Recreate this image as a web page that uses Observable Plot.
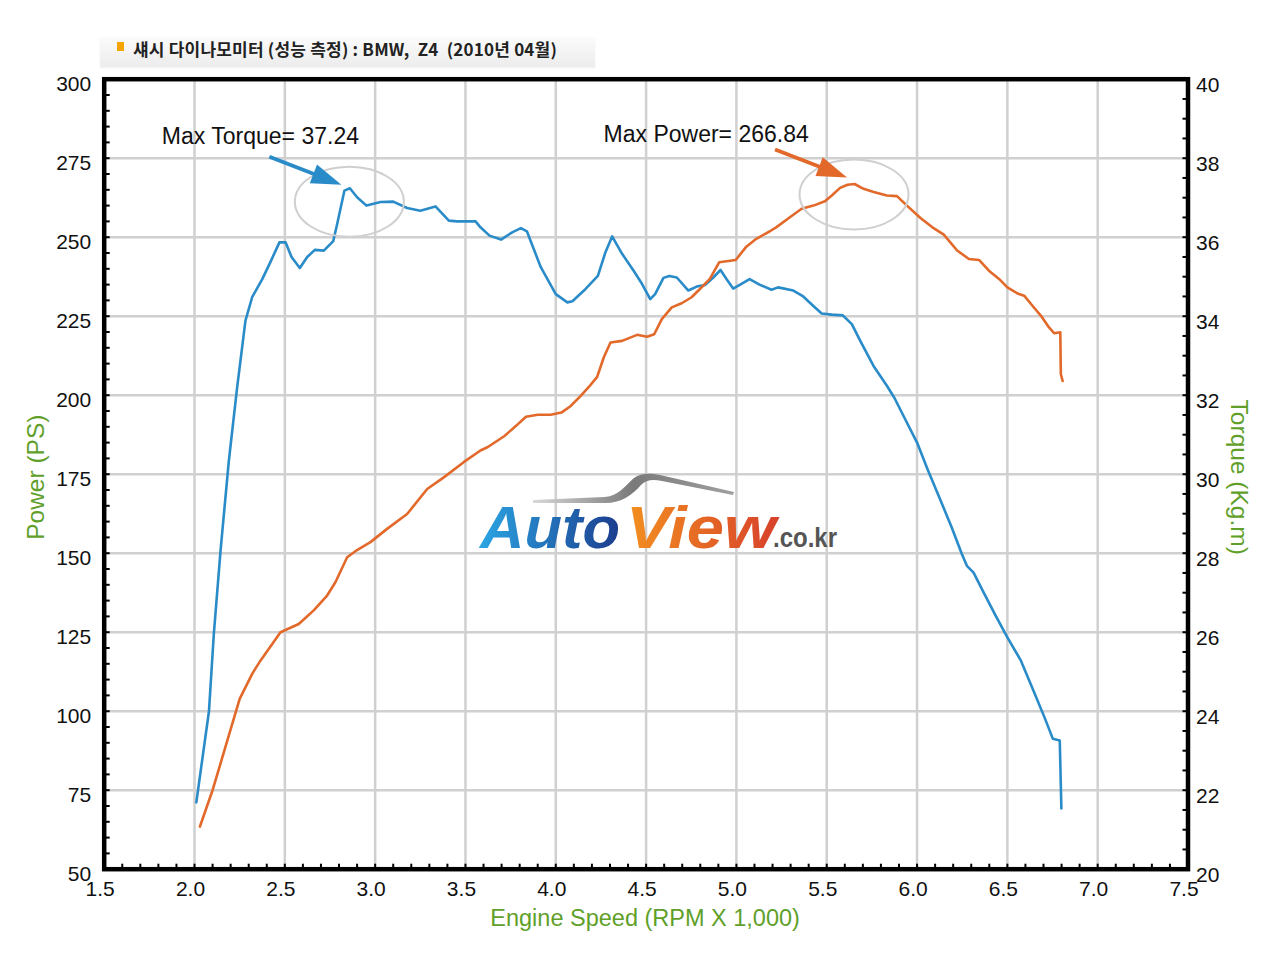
<!DOCTYPE html>
<html><head><meta charset="utf-8">
<script src="https://cdn.jsdelivr.net/npm/d3@7"></script>
<script src="https://cdn.jsdelivr.net/npm/@observablehq/plot@0.6"></script>
<style>
body{margin:0;background:#fff;width:1280px;height:955px;overflow:hidden;font-family:"Liberation Sans",Arial,sans-serif;}
#title{position:relative;height:68px;}
#title .bar{position:absolute;left:100px;top:37px;width:495px;height:30px;background:linear-gradient(to bottom,#fbfbfb,#ececec);box-shadow:0 1px 2px rgba(0,0,0,0.06);}
#title .bullet{position:absolute;left:117px;top:42px;width:7px;height:9px;background:#f5a400;}
#title .txt{position:absolute;left:133px;top:38px;font-family:"Noto Sans CJK KR",sans-serif;font-size:17px;font-weight:700;color:#222;line-height:22px;white-space:pre;letter-spacing:0.2px;}
#chart svg{display:block;}
</style></head>
<body>
<div id="title"><div class="bar"></div><div class="bullet"></div><div class="txt">섀시 다이나모미터 (성능 측정) : BMW,  Z4  (2010년 04월)</div></div>
<div id="chart"></div>
<script>
// ---- data ----
const rpmTorque = [2.01,2.08,2.107,2.144,2.19,2.236,2.282,2.319,2.375,2.42,2.47,2.504,2.537,2.583,2.624,2.666,2.716,2.768,2.79,2.83,2.86,2.90,2.952,3.03,3.10,3.177,3.25,3.334,3.408,3.454,3.556,3.583,3.633,3.697,3.761,3.807,3.84,3.917,4.0,4.064,4.092,4.165,4.233,4.275,4.312,4.367,4.431,4.477,4.523,4.55,4.596,4.629,4.67,4.734,4.78,4.826,4.872,4.912,4.945,4.982,5.028,5.073,5.128,5.194,5.231,5.315,5.37,5.426,5.472,5.528,5.589,5.639,5.685,5.759,5.833,5.875,5.94,6.0,6.062,6.127,6.192,6.248,6.276,6.313,6.369,6.435,6.5,6.575,6.64,6.705,6.752,6.79,6.799];
const torque = [21.69,24.0,25.96,28.06,30.34,32.2,33.89,34.48,34.94,35.37,35.87,35.87,35.5,35.22,35.5,35.68,35.66,35.9,36.34,37.18,37.24,37.01,36.8,36.89,36.9,36.74,36.67,36.78,36.42,36.4,36.4,36.25,36.04,35.94,36.13,36.23,36.15,35.24,34.56,34.35,34.38,34.69,35.02,35.62,36.02,35.58,35.15,34.82,34.43,34.56,34.97,35.02,34.98,34.65,34.75,34.79,34.98,35.17,34.94,34.7,34.82,34.94,34.8,34.67,34.73,34.65,34.5,34.26,34.07,34.04,34.02,33.8,33.38,32.74,32.24,31.93,31.34,30.8,30.08,29.37,28.65,27.98,27.68,27.51,27.0,26.42,25.87,25.28,24.57,23.85,23.3,23.26,21.54];
const rpmPower = [2.03,2.10,2.165,2.25,2.32,2.365,2.476,2.577,2.66,2.734,2.78,2.845,2.90,2.974,3.066,3.177,3.288,3.38,3.49,3.583,3.624,3.716,3.78,3.835,3.9,3.972,4.031,4.083,4.138,4.183,4.229,4.266,4.303,4.367,4.45,4.505,4.545,4.587,4.642,4.697,4.752,4.798,4.853,4.905,4.945,4.996,5.055,5.11,5.183,5.222,5.296,5.361,5.426,5.49,5.528,5.574,5.615,5.654,5.704,5.76,5.833,5.889,5.944,6.019,6.083,6.148,6.222,6.287,6.343,6.398,6.454,6.5,6.556,6.593,6.639,6.685,6.726,6.759,6.793,6.796,6.806];
const power = [63.5,75,87.5,103.9,111.9,116,125,127.6,131.9,136.6,140.8,148.7,151,153.5,157.7,162.4,170.3,174,178.8,182.5,183.6,187.1,190.3,193.2,193.8,193.8,194.5,196.6,199.8,202.6,205.8,212,216.7,217.2,219.1,218.5,219.3,224.1,227.8,229.1,231,233.6,236.8,242.1,242.4,242.8,247,249.5,251.8,253.2,256.3,259,260,261.4,263.2,265.6,266.6,266.84,265.3,264.3,263.2,263,260,256.1,253.2,250.8,245.8,243.1,242.8,239.4,236.8,234.1,232.2,231.5,228.3,225.2,221.8,219.6,219.9,206.7,204.5];
const xTicks = [1.5,2.0,2.5,3.0,3.5,4.0,4.5,5.0,5.5,6.0,6.5,7.0,7.5];
const powerTicks = [50,75,100,125,150,175,200,225,250,275,300];
const torqueTicks = [20,22,24,26,28,30,32,34,36,38,40];
const maxTorqueText = "Max Torque= 37.24";
const maxPowerText = "Max Power= 266.84";
const xLabel = "Engine Speed (RPM X 1,000)";
const yLabelLeft = "Power (PS)";
const yLabelRight = "Torque (Kg.m)";

// ---- helpers ----
const toPS = t => 50 + (t - 20) * 12.5;   // torque axis mapped onto power axis
const blue = "#2a8bc9", orange = "#e2692a", green = "#5f9f2a", grid = "#d0d0d0";
const torqueData = rpmTorque.map((r, i) => ({rpm: r, v: toPS(torque[i])}));
const powerData = rpmPower.map((r, i) => ({rpm: r, v: power[i]}));
const iT = d3.maxIndex(torque), iP = d3.maxIndex(power);
const peakT = torqueData[iT], peakP = powerData[iP];

const minorX = d3.range(Math.round(xTicks[0]*10), Math.round(xTicks[xTicks.length-1]*10)+1).map(d => d/10);
const minorPS = d3.range(powerTicks[0], powerTicks[powerTicks.length-1]+1, 5);
const minorT = d3.range(torqueTicks[0]*2, torqueTicks[torqueTicks.length-1]*2+1).map(d => toPS(d/2));

const plot = Plot.plot({
  width: 1280, height: 887,
  marginLeft: 103.7, marginRight: 92.5, marginTop: 10.7, marginBottom: 86.3,
  x: {domain: [xTicks[0], xTicks[xTicks.length-1]]},
  y: {domain: [powerTicks[0], powerTicks[powerTicks.length-1]]},
  style: {fontFamily: "'Liberation Sans', Arial, sans-serif", color: "#111", overflow: "visible", background: "white"},
  marks: [
    Plot.gridX({ticks: xTicks.slice(1, -1), stroke: grid, strokeOpacity: 1, strokeWidth: 2.5}),
    Plot.gridY({ticks: powerTicks.slice(1, -1), stroke: grid, strokeOpacity: 1, strokeWidth: 2.5}),
    Plot.axisX({ticks: minorX, tickSize: -5, fill: "none", stroke: "#000", strokeWidth: 2}),
    Plot.axisY({anchor: "left", ticks: minorPS, tickSize: -6, fill: "none", stroke: "#000", strokeWidth: 2}),
    Plot.axisY({anchor: "right", ticks: minorT, tickSize: -6, fill: "none", stroke: "#000", strokeWidth: 2}),
    Plot.axisX({ticks: xTicks, tickFormat: d3.format(".1f"), tickSize: 0, tickPadding: 12, dx: -4, fontSize: 21, label: null, fill: "#111"}),
    Plot.axisY({anchor: "left", ticks: powerTicks, tickSize: 0, tickPadding: 13, dy: 5, fontSize: 21, label: null, fill: "#111"}),
    Plot.axisY({anchor: "right", ticks: torqueTicks.map(toPS), tickFormat: d => String(Math.round(20 + (d - 50) / 12.5)), tickSize: 0, tickPadding: 8, dy: 6, fontSize: 21, label: null, fill: "#111"}),
    Plot.line(torqueData, {x: "rpm", y: "v", stroke: blue, strokeWidth: 2.6, strokeLinejoin: "round"}),
    Plot.line(powerData, {x: "rpm", y: "v", stroke: orange, strokeWidth: 2.6, strokeLinejoin: "round"}),
    Plot.frame({stroke: "#000", strokeWidth: 4.5}),
    Plot.text([yLabelLeft], {text: d => d, frameAnchor: "left", textAnchor: "middle", lineAnchor: "middle", dx: -68, dy: 3, rotate: -90, fill: green, fontSize: 24.5}),
    Plot.text([yLabelRight], {text: d => d, frameAnchor: "right", textAnchor: "middle", lineAnchor: "middle", dx: 51, dy: 3, rotate: 90, fill: green, fontSize: 24.5}),
    Plot.text([xLabel], {text: d => d, frameAnchor: "bottom", textAnchor: "middle", lineAnchor: "middle", dy: 49, dx: -1, fill: green, fontSize: 23.5}),
    Plot.text([peakT], {x: "rpm", y: "v", text: () => maxTorqueText, dx: -188, dy: -44, textAnchor: "start", lineAnchor: "bottom", fontSize: 23, fill: "#111", letterSpacing: "-0.7px"}),
    Plot.text([peakP], {x: "rpm", y: "v", text: () => maxPowerText, dx: -251, dy: -42, textAnchor: "start", lineAnchor: "bottom", fontSize: 23, fill: "#111", letterSpacing: "-0.7px"})
  ]
});
document.getElementById("chart").appendChild(plot);

// ---- decorations positioned through the plot's scales ----
const sx = plot.scale("x"), sy = plot.scale("y");
const svg = d3.select(plot);
const deco = svg.append("g");
function ellipseAt(p, oy) {
  deco.append("ellipse").attr("cx", sx.apply(p.rpm)).attr("cy", sy.apply(p.v) + oy)
    .attr("rx", 54.5).attr("ry", 35).attr("fill", "none").attr("stroke", "#cfcfcf").attr("stroke-width", 2);
}
function arrowTo(p, color, ox, oy) {
  const tx = sx.apply(p.rpm) + ox, ty = sy.apply(p.v) + oy;
  const ang = Math.atan2(28, 72);
  const len = 30, hw = 10;
  const bx = tx - len * Math.cos(ang), by = ty - len * Math.sin(ang);
  const fx = tx - 72, fy = ty - 28;
  deco.append("line").attr("x1", fx).attr("y1", fy).attr("x2", bx + 2 * Math.cos(ang)).attr("y2", by + 2 * Math.sin(ang))
    .attr("stroke", color).attr("stroke-width", 3.8);
  const nx = -Math.sin(ang), ny = Math.cos(ang);
  deco.append("path").attr("d", `M${tx},${ty}L${bx + hw*nx},${by + hw*ny}L${bx - hw*nx},${by - hw*ny}Z`).attr("fill", color);
}
ellipseAt(peakT, 14);
ellipseAt(peakP, 11);
arrowTo(peakT, blue, -8, -3);
arrowTo(peakP, orange, -7, -6);

// watermark logo
const defs = svg.append("defs");
const g1 = defs.append("linearGradient").attr("id", "gAuto");
g1.append("stop").attr("offset", "0").attr("stop-color", "#2aa6e4");
g1.append("stop").attr("offset", "1").attr("stop-color", "#1c3d8e");
const g2 = defs.append("linearGradient").attr("id", "gView");
g2.append("stop").attr("offset", "0").attr("stop-color", "#f39020");
g2.append("stop").attr("offset", "1").attr("stop-color", "#d7402a");
const g3 = defs.append("linearGradient").attr("id", "gSw");
g3.append("stop").attr("offset", "0").attr("stop-color", "#d8d8d8");
g3.append("stop").attr("offset", "0.5").attr("stop-color", "#7a7a7a");
g3.append("stop").attr("offset", "1").attr("stop-color", "#a0a0a0");
const logo = svg.append("g").attr("font-family", "'Liberation Sans', Arial, sans-serif").attr("text-anchor", "start");
logo.append("path").attr("fill", "url(#gSw)")
  .attr("d", "M533,432 L605,429 C618,428 625,418 634,410 C641,405 649,405 660,407 L734,424 L733,427 L662,413 C652,411 646,412 641,417 C632,427 622,435 605,435 L533,435 Z");
logo.append("text").attr("x", 480).attr("y", 480).attr("font-size", 60).attr("font-weight", "bold").attr("font-style", "italic")
  .attr("textLength", 140).attr("lengthAdjust", "spacingAndGlyphs").attr("fill", "url(#gAuto)").text("Auto");
logo.append("text").attr("x", 626).attr("y", 480).attr("font-size", 60).attr("font-weight", "bold").attr("font-style", "italic")
  .attr("textLength", 150).attr("lengthAdjust", "spacingAndGlyphs").attr("fill", "url(#gView)").text("View");
logo.append("text").attr("x", 773).attr("y", 479).attr("font-size", 27).attr("font-weight", "bold")
  .attr("textLength", 64).attr("lengthAdjust", "spacingAndGlyphs").attr("fill", "#555").text(".co.kr");
</script>
</body></html>
